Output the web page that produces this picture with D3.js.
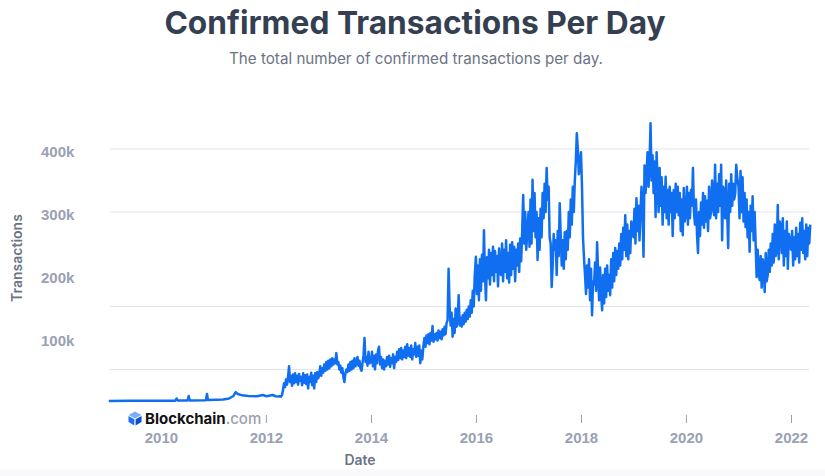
<!DOCTYPE html>
<html lang="en">
<head>
  <meta charset="UTF-8">
  <title>Confirmed Transactions Per Day</title>
  <script src="https://d3js.org/d3.v7.min.js"></script>
  <style>
    body { margin: 0; background: #fff; }
    svg { font-family: Inter, "Noto Sans", sans-serif; }
    .x.axis .domain, .y.axis .domain { display: none; }
    .x.axis line { stroke: #9aa1b3; }
    .x.axis text, .y.axis text { fill: #9aa1b3; font-size: 15px; font-weight: 600; }
    .gridlines line { stroke: #e3e5ec; }
  </style>
</head>
<body>
  <svg id="chart" width="825" height="476"></svg>
  <script>
    // values are in thousands of transactions
    const titleText = "Confirmed Transactions Per Day";
    const subtitleText = "The total number of confirmed transactions per day.";
    const yTicks = [100, 200, 300, 400];
    const gridValues = [50, 150, 300, 400];
    const xTickYears = [2010, 2012, 2014, 2016, 2018, 2020, 2022];

    // sparse points before the 2012 jump
    const earlyDates = ["2009-01-03","2009-06-01","2009-12-01","2010-04-10","2010-04-20","2010-04-28",
      "2010-07-05","2010-07-13","2010-07-20","2010-11-10","2010-11-17","2010-11-24","2011-01-20",
      "2011-03-10","2011-04-20","2011-05-20","2011-06-05","2011-06-20","2011-07-20","2011-09-01",
      "2011-11-01","2011-12-10","2012-01-05","2012-02-17","2012-03-10"];
    const earlyValues = [0.1,0.2,0.4,0.5,4,0.6,0.8,8,0.9,1,11,1.5,2,2.5,4,8,14,11,9,8,7.5,9.5,7.5,9.5,7.5];

    // weekly values from here on
    const weekStarts = ["2012-04-01","2013-01-06","2014-01-01","2015-01-01","2016-01-01","2017-01-01",
      "2018-01-01","2019-01-01","2020-01-01","2021-01-01","2022-01-02"];
    const tx2012 = [7,8,7,9, 18,28,22,34,26, 38,55,30,40, 24,42,28,44,30, 40,26,43,32, 38,25,44,29,41,
      27,42,20,38, 30,45,25,40, 20,44,30,46,36];
    const tx2013 = [42,55,40,52, 45,58,48,62, 50,64,52,66, 55,68,58,66,60, 76,58,62,50, 56,45,52,38,
      30,44,50,46, 58,48,62,50, 64,52,68,55,62, 70,56,64,52, 48,60,72,100, 62,70,56,78,60];
    const tx2014 = [62,78,55,72, 50,74,60,80, 86,58,70,52,66, 50,64,55,70, 58,72,54,68, 60,74,52,70,
      62,78,65,82,68, 84,66,80,70, 86,68,90,72, 84,70,88,66,82, 74,92,70,86, 72,88,60,80,66];
    const tx2015 = [88,100,86,104, 92,106,90,108, 96,119,94,106,98, 108,96,112,100, 110,98,114,104,
      118,106,124,128, 210,150,120,140,102, 130,108,147,118, 128,168,120,132, 118,136,122,140,126,
      145,130,150,134, 160,140,175,150,200];
    const tx2016 = [229,170,215,160, 225,175,232,190, 271,200,160,228,195, 240,185,235,200,
      245,190,238,205, 230,182,242,210, 200,250,190,240,205, 255,195,235,188, 248,200,252,210,
      245,190,240,215,250, 205,258,222,270, 327,250,300,240];
    const tx2017 = [300,245,320,250, 351,270,330,260, 300,224,290,240,305, 260,330,290,345,
      300,370,320,340, 260,250,181,215, 265,240,255,200,270, 230,314,262,215, 255,210,268,225,
      270,240,300,260,320, 280,340,300,350, 380,425,400,360];
    const tx2018 = [395,340,260,227, 200,170,215,180, 225,160,210,136,190, 185,220,175,252,
      205,160,212,170, 144,200,155,210, 165,215,175,200,168, 225,180,235,190, 243,200,238,210,
      250,215,265,225,275, 240,295,230,280, 225,270,235,285];
    const tx2019 = [260,305,250,322, 270,310,255,300, 340,300,229,374,330, 360,395,340,380,
      441,350,390,330, 380,292,395,345, 300,370,310,355,280, 340,300,356,290, 335,280,340,300,
      330,262,335,290,345, 300,340,295,330, 270,320,263,338,285];
    const tx2020 = [300,340,280,330, 290,335,310,370, 300,280,320,265,235, 300,262,315,280,
      330,275,325,285, 318,270,340,290, 300,350,310,295,375, 290,345,300,360, 310,375,255,340,
      330,290,350,300,243, 345,300,360,310, 345,320,330,375,355];
    const tx2021 = [340,290,365,300, 355,285,330,276, 320,260,300,237,310, 270,325,255,300,
      250,197,240,205, 192,230,180,225, 215,173,235,190,200, 240,205,250,215, 265,220,280,230,
      240,311,225,285,275, 235,290,215,270, 230,285,210,265];
    const tx2022 = [240,270,215,260, 225,275,230,265, 220,283,240,290,235, 270,225,280,230, 275,250,280];
    const weeklyValues = [tx2012, tx2013, tx2014, tx2015, tx2016, tx2017, tx2018, tx2019, tx2020, tx2021, tx2022];

    const parse = d3.utcParse("%Y-%m-%d");
    let data = earlyDates.map((d, i) => ({date: parse(d), value: earlyValues[i]}));
    weeklyValues.forEach((vals, k) => {
      let start = parse(weekStarts[k]);
      vals.forEach((v, i) => data.push({date: d3.utcDay.offset(start, 7 * i), value: v}));
    });

    let svg = d3.select("svg#chart");
    let width = +svg.attr("width");
    let height = +svg.attr("height");
    let margin = {top: 149, right: 16, bottom: 75, left: 110};

    const xScale = d3.scaleUtc()
                     .domain([new Date(Date.UTC(2009, 0, 1)), new Date(Date.UTC(2022, 0, 1))])
                     .range([108.5, 791]);
    const yScale = d3.scaleLinear().domain([0, 400]).range([401, 149]);

    // light strip at the bottom
    svg.append("rect")
       .attr("x", 0).attr("y", 469).attr("width", width).attr("height", height - 469)
       .attr("fill", "#f9f9fb");

    // gridlines
    svg.append("g")
       .attr("class", "gridlines")
       .selectAll("line")
       .data(gridValues)
       .join("line")
       .attr("x1", 110).attr("x2", width - margin.right)
       .attr("y1", d => yScale(d)).attr("y2", d => yScale(d));

    // y axis labels
    let leftAxis = d3.axisLeft(yScale)
                     .tickValues(yTicks)
                     .tickSize(0)
                     .tickFormat(d => d + "k");
    svg.append("g")
       .attr("class", "y axis")
       .attr("transform", "translate(41,3)")
       .call(leftAxis)
       .selectAll("text")
       .attr("x", 0)
       .attr("text-anchor", "start");

    // x axis
    let bottomAxis = d3.axisBottom(xScale)
                       .tickValues(xTickYears.map(y => new Date(Date.UTC(y, 0, 1))))
                       .tickSize(8)
                       .tickFormat(d3.utcFormat("%Y"));
    let xAxisG = svg.append("g")
                    .attr("class", "x axis")
                    .attr("transform", "translate(0,415)")
                    .call(bottomAxis);
    xAxisG.selectAll("text").attr("y", 17);

    // the line
    let lineGen = d3.line()
                    .x(d => xScale(d.date))
                    .y(d => yScale(d.value));
    svg.append("path")
       .datum(data)
       .attr("fill", "none")
       .attr("stroke", "#0f6ff0")
       .attr("stroke-width", 2.5)
       .attr("stroke-linejoin", "round")
       .attr("d", lineGen);

    // logo (covers the 2010 tick)
    let logo = svg.append("g");
    logo.append("rect").attr("x", 124).attr("y", 410).attr("width", 130).attr("height", 17).attr("fill", "#fff");
    logo.append("polygon").attr("points", "135,411.5 141.5,415 135,418.5 128.5,415").attr("fill", "#7bb0f8");
    logo.append("polygon").attr("points", "128.5,416 134.4,419.3 134.4,425.5 128.5,422").attr("fill", "#1f70f0");
    logo.append("polygon").attr("points", "135.6,419.3 141.5,416 141.5,422 135.6,425.5").attr("fill", "#0f4fc4");
    let logoText = logo.append("text")
                       .attr("x", 145).attr("y", 424)
                       .style("font-size", "15px");
    logoText.append("tspan").attr("font-weight", 700).attr("fill", "#111").text("Blockchain");
    logoText.append("tspan").attr("font-weight", 500).attr("fill", "#9aa1b3").text(".com");

    // titles
    svg.append("text")
       .attr("x", 415).attr("y", 34)
       .attr("text-anchor", "middle")
       .style("font", "700 31.7px Inter, sans-serif")
       .attr("fill", "#353f52")
       .text(titleText);
    svg.append("text")
       .attr("x", 416).attr("y", 64)
       .attr("text-anchor", "middle")
       .style("font", "400 15.2px Inter, sans-serif")
       .attr("fill", "#6b7385")
       .text(subtitleText);

    // axis titles
    svg.append("text")
       .attr("transform", "translate(22,258) rotate(-90)")
       .attr("text-anchor", "middle")
       .style("font", "600 14px Inter, sans-serif")
       .attr("fill", "#6b7385")
       .text("Transactions");
    svg.append("text")
       .attr("x", 360).attr("y", 465)
       .attr("text-anchor", "middle")
       .style("font", "600 14px Inter, sans-serif")
       .attr("fill", "#6b7385")
       .text("Date");
  </script>
</body>
</html>
